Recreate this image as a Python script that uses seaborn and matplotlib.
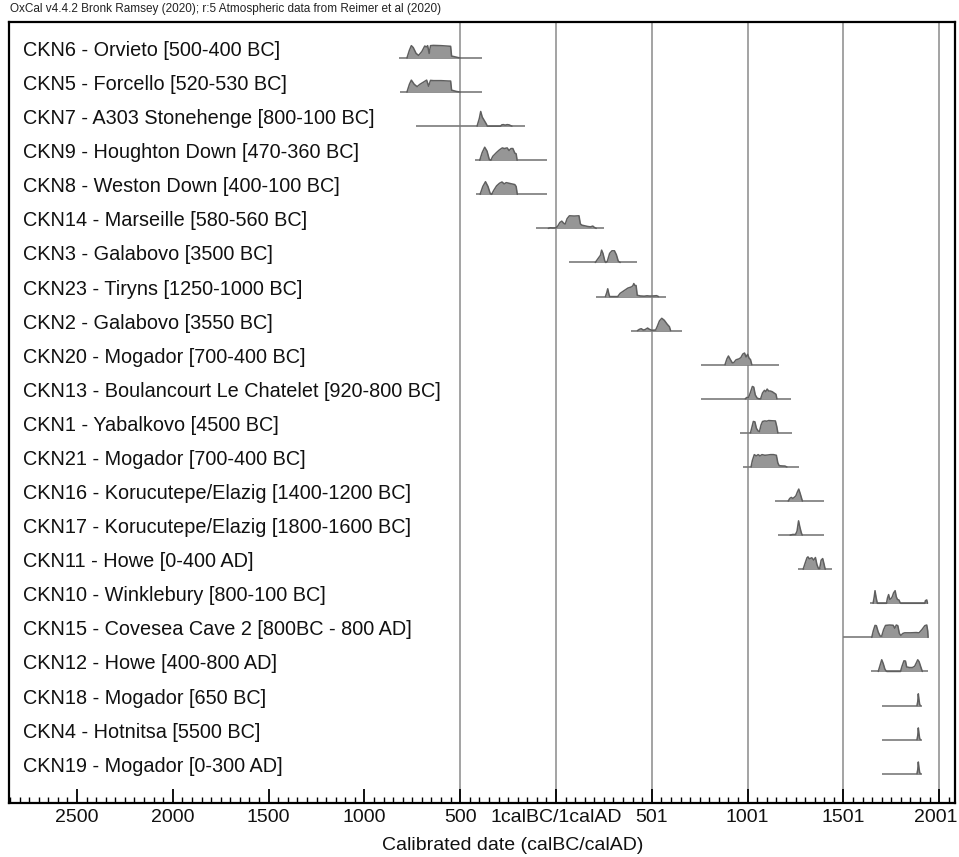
import numpy as np
import pandas as pd
import matplotlib
matplotlib.use("Agg")
import matplotlib.pyplot as plt
from matplotlib.ticker import MultipleLocator
from matplotlib.transforms import offset_copy
import seaborn as sns

# ---------------- data ----------------
labels = [
    "CKN6 - Orvieto [500-400 BC]",
    "CKN5 - Forcello [520-530 BC]",
    "CKN7 - A303 Stonehenge [800-100 BC]",
    "CKN9 - Houghton Down [470-360 BC]",
    "CKN8 - Weston Down [400-100 BC]",
    "CKN14 - Marseille [580-560 BC]",
    "CKN3 - Galabovo [3500 BC]",
    "CKN23 - Tiryns [1250-1000 BC]",
    "CKN2 - Galabovo [3550 BC]",
    "CKN20 - Mogador [700-400 BC]",
    "CKN13 - Boulancourt Le Chatelet [920-800 BC]",
    "CKN1 - Yabalkovo [4500 BC]",
    "CKN21 - Mogador [700-400 BC]",
    "CKN16 - Korucutepe/Elazig [1400-1200 BC]",
    "CKN17 - Korucutepe/Elazig [1800-1600 BC]",
    "CKN11 - Howe [0-400 AD]",
    "CKN10 - Winklebury [800-100 BC]",
    "CKN15 - Covesea Cave 2 [800BC - 800 AD]",
    "CKN12 - Howe [400-800 AD]",
    "CKN18 - Mogador [650 BC]",
    "CKN4 - Hotnitsa [5500 BC]",
    "CKN19 - Mogador [0-300 AD]",
]

# plotted range of each distribution (negative = BC)
range_start = [-821, -812, -729, -425, -418, -106, 69, 207, 391, 759, 759, 962,
               976, 1141, 1161, 1262, 1641, 1497, 1644, 1700, 1700, 1700]
range_end = [-387, -387, -161, -48, -48, 252, 425, 576, 658, 1163, 1224, 1231,
             1267, 1398, 1398, 1443, 1939, 1943, 1943, 1908, 1908, 1908]

# probability curves: (calendar date, relative probability)
curve_dates = [
    [-778, -765, -755, -745, -730, -717, -700, -685, -676, -670, -662, -655, -640, -600, -570, -550, -545, -530, -510, -500],
    [-778, -765, -755, -740, -725, -710, -688, -675, -665, -655, -640, -600, -560, -550, -545, -520, -500],
    [-412, -400, -393, -385, -375, -365, -358, -290, -283, -275, -265, -255, -245, -235, -230],
    [-398, -385, -372, -360, -348, -340, -330, -310, -295, -280, -270, -255, -245, -235, -225, -215, -208, -203],
    [-396, -382, -368, -355, -343, -336, -325, -310, -295, -282, -270, -260, -245, -230, -215, -208, -202],
    [-40, -30, -15, 0, 10, 20, 30, 40, 48, 58, 70, 95, 120, 127, 135, 150, 165, 180, 192, 200, 210],
    [205, 222, 232, 238, 245, 255, 260, 268, 280, 292, 305, 315, 325, 335],
    [258, 265, 270, 276, 280, 322, 335, 350, 365, 375, 385, 395, 402, 406, 412, 418, 424, 440, 460, 475, 490, 510, 525, 535],
    [425, 435, 445, 455, 465, 478, 488, 500, 520, 528, 540, 552, 565, 580, 592, 598],
    [882, 892, 900, 910, 920, 927, 940, 955, 965, 975, 984, 992, 1000, 1008, 1015, 1022],
    [988, 995, 1005, 1015, 1025, 1032, 1040, 1050, 1060, 1068, 1078, 1088, 1095, 1102, 1110, 1118, 1128, 1138, 1148, 1153],
    [1015, 1022, 1030, 1038, 1046, 1055, 1062, 1070, 1078, 1090, 1100, 1110, 1130, 1145, 1152, 1158],
    [1018, 1025, 1035, 1045, 1055, 1065, 1075, 1090, 1105, 1120, 1135, 1150, 1158, 1165, 1180, 1195, 1205],
    [1212, 1220, 1228, 1236, 1245, 1252, 1260, 1267, 1274, 1280, 1286],
    [1222, 1235, 1250, 1258, 1266, 1273, 1280, 1285],
    [1290, 1300, 1310, 1315, 1322, 1335, 1345, 1354, 1362, 1370, 1376, 1384, 1392, 1398, 1405],
    [1655, 1661, 1665, 1670, 1677, 1725, 1730, 1736, 1742, 1748, 1755, 1762, 1770, 1776, 1782, 1790, 1796, 1800, 1925, 1928, 1935, 1939],
    [1648, 1656, 1665, 1672, 1682, 1692, 1700, 1710, 1720, 1740, 1760, 1768, 1776, 1784, 1792, 1800, 1810, 1820, 1850, 1880, 1895, 1910, 1925, 1935, 1940, 1942],
    [1682, 1692, 1700, 1708, 1716, 1722, 1727, 1798, 1806, 1816, 1824, 1830, 1845, 1860, 1872, 1882, 1888, 1895, 1905, 1912],
    [1884, 1888, 1891, 1894, 1898, 1901],
    [1884, 1888, 1891, 1894, 1898, 1901],
    [1884, 1888, 1891, 1894, 1898, 1901],
]
curve_probs = [
    [0, 0.6, 0.95, 0.8, 0.35, 0.2, 0.5, 0.92, 0.85, 0.95, 0.35, 0.95, 0.97, 0.95, 0.92, 0.9, 0.15, 0.1, 0.03, 0],
    [0, 0.6, 0.92, 0.6, 0.42, 0.6, 0.8, 0.92, 0.45, 0.9, 0.88, 0.88, 0.85, 0.85, 0.15, 0.05, 0],
    [0, 0.6, 1.13, 0.7, 0.45, 0.2, 0, 0, 0.1, 0.12, 0.08, 0.12, 0.1, 0.03, 0],
    [0, 0.6, 1.0, 0.7, 0.05, 0, 0.3, 0.6, 0.8, 0.95, 0.9, 0.95, 0.75, 0.9, 0.9, 0.55, 0.5, 0],
    [0, 0.6, 0.97, 0.6, 0.05, 0, 0.3, 0.65, 0.85, 0.95, 0.8, 0.9, 0.85, 0.8, 0.75, 0.6, 0],
    [0, 0.05, 0.03, 0.05, 0.2, 0.45, 0.56, 0.4, 0.33, 0.75, 0.97, 0.95, 0.97, 0.35, 0.25, 0.2, 0.15, 0.12, 0.18, 0.08, 0],
    [0, 0.35, 0.55, 0.95, 0.7, 0.1, 0, 0.1, 0.7, 0.9, 0.9, 0.6, 0.1, 0],
    [0, 0.3, 0.6, 0.2, 0, 0, 0.25, 0.4, 0.55, 0.65, 0.7, 0.75, 0.85, 1.0, 0.85, 0.85, 0.1, 0.05, 0.03, 0.06, 0.04, 0.05, 0.07, 0],
    [0, 0.1, 0.15, 0.05, 0.08, 0.2, 0.1, 0.03, 0.05, 0.3, 0.75, 0.95, 0.8, 0.5, 0.3, 0],
    [0, 0.45, 0.67, 0.4, 0.15, 0.15, 0.38, 0.45, 0.55, 0.82, 0.9, 0.6, 0.8, 0.5, 0.4, 0],
    [0, 0.1, 0.1, 0.5, 0.95, 0.9, 0.3, 0.05, 0, 0, 0.45, 0.65, 0.55, 0.75, 0.6, 0.6, 0.55, 0.45, 0.35, 0],
    [0, 0.4, 0.88, 0.85, 0.35, 0.15, 0.1, 0.6, 0.88, 0.92, 0.9, 0.95, 0.93, 0.92, 0.5, 0],
    [0, 0.5, 0.95, 0.85, 0.95, 0.85, 0.95, 0.9, 0.92, 0.95, 0.95, 0.9, 0.3, 0.1, 0.08, 0.07, 0],
    [0, 0.2, 0.28, 0.2, 0.3, 0.4, 0.7, 0.92, 0.6, 0.3, 0],
    [0, 0.05, 0.05, 0.3, 1.1, 0.6, 0.2, 0],
    [0, 0.45, 0.88, 0.95, 0.8, 0.88, 0.7, 0.9, 0.35, 0.05, 0.05, 0.7, 0.82, 0.45, 0],
    [0, 0.5, 0.97, 0.5, 0, 0, 0.4, 0.67, 0.3, 0.35, 0.5, 0.8, 0.97, 0.5, 0.3, 0.25, 0.05, 0, 0, 0.2, 0.26, 0],
    [0, 0.5, 0.92, 0.9, 0.4, 0.1, 0.1, 0.6, 0.92, 0.95, 0.93, 0.7, 0.95, 0.9, 0.3, 0.15, 0.3, 0.35, 0.35, 0.37, 0.35, 0.6, 0.9, 0.95, 0.5, 0],
    [0, 0.5, 0.9, 0.6, 0.2, 0.05, 0, 0, 0.4, 0.82, 0.8, 0.35, 0.3, 0.3, 0.4, 0.7, 0.9, 0.75, 0.3, 0],
    [0, 0.3, 0.9, 0.5, 0.1, 0],
    [0, 0.3, 0.9, 0.5, 0.1, 0],
    [0, 0.3, 0.9, 0.5, 0.1, 0],
]

tick_dates = [-2500, -2000, -1500, -1000, -500, 0, 500, 1000, 1500, 2000]
tick_labels = ["2500", "2000", "1500", "1000", "500", "1calBC/1calAD",
               "501", "1001", "1501", "2001"]
grid_dates = [-500, 0, 500, 1000, 1500, 2000]

# ---------------- style ----------------
sns.set_theme(style="white")
plt.rcParams["font.family"] = ["Liberation Sans", "DejaVu Sans"]

W, H = 959, 857
fig = plt.figure(figsize=(W / 100, H / 100), dpi=100)
ax_l, ax_r, ax_t, ax_b = 9, 955, 22, 803
ax = fig.add_axes([ax_l / W, 1 - ax_b / H, (ax_r - ax_l) / W, (ax_b - ax_t) / H])

n = len(labels)
row_px = 34.08
scale = 13.0 / row_px          # height of relative prob 1.0 in row units

# long table of the curve outlines
rows = []
for i in range(n):
    for d, p in zip(curve_dates[i], curve_probs[i]):
        rows.append({"sample": labels[i], "row": i, "date": d, "top": i - p * scale})
df = pd.DataFrame(rows)

# gridlines
for g in grid_dates:
    ax.axvline(g, color="#8a8a8a", lw=1.1, zorder=0)

# range baselines
for i in range(n):
    ax.plot([range_start[i], range_end[i]], [i, i], color="#7a7a7a", lw=1.2,
            solid_capstyle="butt", zorder=2)

# fills
for i in range(n):
    sub = df[df["row"] == i]
    ax.fill_between(sub["date"], i, sub["top"], color="#969696", lw=0, zorder=3)

sns.lineplot(data=df, x="date", y="top", units="sample", estimator=None,
             sort=False, color="#5f5f5f", lw=1.1, ax=ax, zorder=4, legend=False)

# labels
for i, lab in enumerate(labels):
    ax.text(-2780, i - 2.0 / row_px, lab, fontsize=14.3, ha="left",
            va="baseline", color="#111111")

ax.set_xlim((ax_l - 556) / 0.1916, (ax_r - 556) / 0.1916)
ax.set_ylim(n - 1 + (ax_b - 773.7) / row_px, -(58 - ax_t) / row_px)
ax.set_yticks([])
ax.set_ylabel("")
ax.set_xticks(tick_dates)
ax.set_xticklabels(tick_labels, fontsize=14, color="#111111")
ax.xaxis.set_minor_locator(MultipleLocator(50))
ax.tick_params(axis="x", which="major", direction="in", length=10, width=1.3,
               pad=4, bottom=True, top=False, color="black")
ax.tick_params(axis="x", which="minor", direction="in", length=4.5, width=1.0,
               bottom=True, top=False, color="black")
for s in ax.spines.values():
    s.set_visible(True)
    s.set_color("black")
    s.set_linewidth(1.6)

# keep the last tick label inside the figure
last = ax.xaxis.get_major_ticks()[-1].label1
last.set_transform(offset_copy(last.get_transform(), fig=fig, x=-3, y=0, units="dots"))

ax.set_xlabel("Calibrated date (calBC/calAD)", fontsize=14, color="#111111")
ax.xaxis.label.set_va("center")
ax.xaxis.set_label_coords((513 - ax_l) / (ax_r - ax_l), -(845 - ax_b) / (ax_b - ax_t))

fig.text(10 / W, 1 - 9 / H,
         "OxCal v4.4.2 Bronk Ramsey (2020); r:5 Atmospheric data from Reimer et al (2020)",
         fontsize=8.5, va="center", ha="left", color="#222222")

fig.savefig("out.png", dpi=100)
